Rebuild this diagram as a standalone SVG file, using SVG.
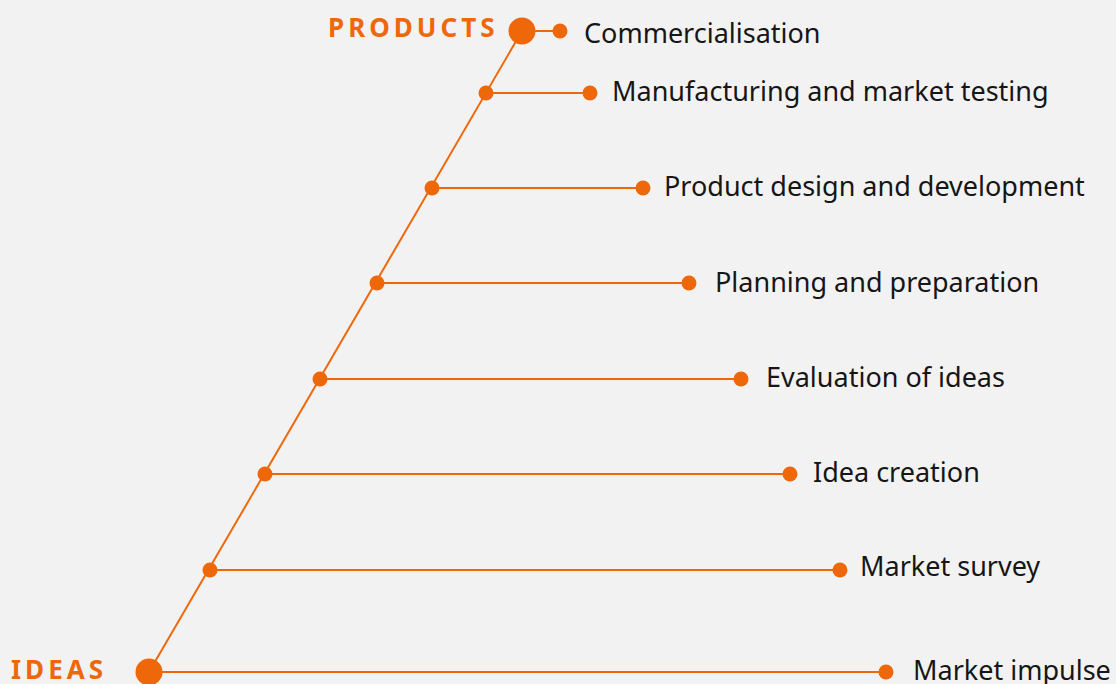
<svg xmlns="http://www.w3.org/2000/svg" width="1116" height="684" viewBox="0 0 1116 684">
<style>
.ln{stroke:#ee680a;stroke-width:2;fill:none}
.dot{fill:#ee680a}
.lbl{font-family:"Noto Sans","Open Sans",sans-serif;font-size:27px;fill:#161616}
.ttl{font-family:"Noto Sans","Open Sans",sans-serif;font-size:26px;font-weight:bold;fill:#ee680a;letter-spacing:4px}
</style>
<rect width="1116" height="684" fill="#f2f2f2"/>
<g id="connectors">
<line class="ln" x1="149" y1="672" x2="522" y2="31"/>
<line class="ln" x1="522" y1="31" x2="560" y2="31"/>
<line class="ln" x1="486" y1="93" x2="590" y2="93"/>
<line class="ln" x1="432" y1="188" x2="643" y2="188"/>
<line class="ln" x1="377" y1="283" x2="689" y2="283"/>
<line class="ln" x1="320" y1="379" x2="741" y2="379"/>
<line class="ln" x1="265" y1="474" x2="790" y2="474"/>
<line class="ln" x1="210" y1="570" x2="840" y2="570"/>
<line class="ln" x1="149" y1="672" x2="886" y2="672"/>
</g>
<g id="products"><circle class="dot" cx="522" cy="31" r="13.5"/><text class="ttl" x="328" y="37">PRODUCTS</text></g>
<g id="ideas"><circle class="dot" cx="149" cy="672" r="13.5"/><text class="ttl" x="11" y="679">IDEAS</text></g>
<g id="commercialisation"><circle class="dot" cx="560" cy="31" r="7.5"/><text class="lbl" x="584" y="43">Commercialisation</text></g>
<g id="manufacturing"><circle class="dot" cx="486" cy="93" r="7.5"/><circle class="dot" cx="590" cy="93" r="7.5"/><text class="lbl" x="612" y="101">Manufacturing and market testing</text></g>
<g id="design"><circle class="dot" cx="432" cy="188" r="7.5"/><circle class="dot" cx="643" cy="188" r="7.5"/><text class="lbl" x="664" y="196">Product design and development</text></g>
<g id="planning"><circle class="dot" cx="377" cy="283" r="7.5"/><circle class="dot" cx="689" cy="283" r="7.5"/><text class="lbl" x="715" y="292">Planning and preparation</text></g>
<g id="evaluation"><circle class="dot" cx="320" cy="379" r="7.5"/><circle class="dot" cx="741" cy="379" r="7.5"/><text class="lbl" x="766" y="387">Evaluation of ideas</text></g>
<g id="creation"><circle class="dot" cx="265" cy="474" r="7.5"/><circle class="dot" cx="790" cy="474" r="7.5"/><text class="lbl" x="813" y="482">Idea creation</text></g>
<g id="survey"><circle class="dot" cx="210" cy="570" r="7.5"/><circle class="dot" cx="840" cy="570" r="7.5"/><text class="lbl" x="860" y="576">Market survey</text></g>
<g id="impulse"><circle class="dot" cx="886" cy="672" r="7.5"/><text class="lbl" x="913" y="680">Market impulse</text></g>
</svg>
